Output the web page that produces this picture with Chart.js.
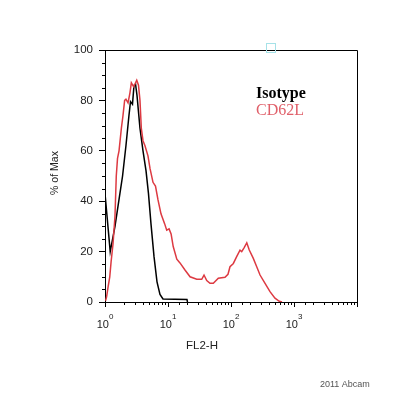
<!DOCTYPE html>
<html lang="en">
<head>
    <meta charset="UTF-8">
    <title>CD62L histogram</title>
    <script src="https://cdn.jsdelivr.net/npm/chart.js@4.4.0/dist/chart.umd.min.js"></script>
    <style>
        body {
            margin: 0;
            background: #fff;
        }
        #chart {
            display: block;
        }
    </style>
</head>
<body>
    <canvas id="chart" width="400" height="394"></canvas>

    <script>
        // FL2-H values (log axis) and % of Max
        const isotypeX = [1.00, 1.00, 1.21, 1.44, 1.70, 1.90, 2.15, 2.40, 2.54, 2.73, 2.89, 3.05, 3.22, 3.59, 4.01, 4.48, 4.90, 5.37, 6.00, 6.69, 7.46, 8.33, 20.0, 20.4];
        const isotypeY = [0, 43, 20, 30, 42, 50, 62, 74, 79.5, 78.5, 86, 86.5, 82, 69, 60, 52, 43, 31, 18, 8, 3, 1.2, 1, 0];

        const cd62lX = [1.02, 1.06, 1.12, 1.19, 1.25, 1.34, 1.44, 1.51, 1.58, 1.67, 1.82, 1.93, 2.05, 2.15, 2.32, 2.49, 2.62, 2.84, 2.99, 3.19, 3.40, 3.59, 3.77, 4.01, 4.31, 4.81, 5.18, 5.78, 6.33, 6.94, 7.74, 8.86, 9.54, 10.4, 11.2, 12.1, 13.8, 15.5, 18.6, 22.4, 28.6, 34.3, 37.3, 41.2, 46.4, 52.4, 62.9, 80.3, 89.6, 96.4, 109, 123, 139, 148, 161, 178, 195, 226, 256, 289, 347, 416, 499, 585, 645];
        const cd62lY = [0.5, 2, 6, 10, 16, 23, 34, 50, 57, 60, 69, 74, 80, 80.5, 79, 83, 87, 85.5, 86.5, 88, 86, 80, 69, 64, 62, 58, 53, 47.5, 46, 40.5, 35, 31, 28.5, 29, 27, 22, 17, 15.5, 12.7, 10, 9, 9, 10.7, 8.5, 7.4, 7.4, 9.4, 9.8, 11, 14, 15.3, 18, 20.6, 20, 21.5, 23.5, 20.6, 17.3, 14, 10.7, 7.4, 4.1, 1.5, 0.3, 0];

        const seriesNames = ['Isotype', 'CD62L'];
        const seriesColors = ['#000000', '#dd3a42'];
        const legendColors = ['#000000', '#e0606a'];

        const yMajorTicks = [0, 20, 40, 60, 80, 100];
        const yMinorStep = 5;

        const sans = '"Liberation Sans", Arial, sans-serif';
        const serif = '"Liberation Serif", "Times New Roman", serif';

        function toPoints(xs, ys) {
            return xs.map((v, i) => ({ x: v, y: ys[i] }));
        }

        function isDecade(v) {
            const l = Math.log10(v);
            return Math.abs(l - Math.round(l)) < 1e-9;
        }

        // box, minor ticks, power-of-ten labels, titles and the text legend
        const decorations = {
            id: 'decorations',
            afterDraw(chart) {
                const { ctx, chartArea: a, scales: { x, y } } = chart;
                ctx.save();

                // top and right sides of the frame
                ctx.strokeStyle = '#000';
                ctx.lineWidth = 1;
                ctx.beginPath();
                ctx.moveTo(a.left, a.top + 0.5);
                ctx.lineTo(a.right + 0.5, a.top + 0.5);
                ctx.lineTo(a.right + 0.5, a.bottom);
                ctx.stroke();

                // short minor ticks
                ctx.beginPath();
                x.ticks.forEach(t => {
                    if (isDecade(t.value)) return;
                    const px = Math.round(x.getPixelForValue(t.value)) + 0.5;
                    ctx.moveTo(px, a.bottom);
                    ctx.lineTo(px, a.bottom + 3);
                });
                for (let v = 0; v <= 100; v += yMinorStep) {
                    if (yMajorTicks.includes(v)) continue;
                    const py = Math.round(y.getPixelForValue(v)) + 0.5;
                    ctx.moveTo(a.left, py);
                    ctx.lineTo(a.left - 3, py);
                }
                ctx.stroke();

                // x labels as 10 with a raised exponent
                ctx.fillStyle = '#222';
                ctx.textBaseline = 'alphabetic';
                ctx.textAlign = 'left';
                x.ticks.forEach(t => {
                    if (!isDecade(t.value) || t.value >= x.max) return;
                    const exp = String(Math.round(Math.log10(t.value)));
                    ctx.font = '11px ' + sans;
                    const w1 = ctx.measureText('10').width;
                    ctx.font = '8px ' + sans;
                    const w2 = ctx.measureText(exp).width;
                    const cx = x.getPixelForValue(t.value);
                    const left = cx - (w1 + w2) / 2;
                    ctx.font = '11px ' + sans;
                    ctx.fillText('10', left, a.bottom + 25.5);
                    ctx.font = '8px ' + sans;
                    ctx.fillText(exp, left + w1, a.bottom + 17);
                });

                // axis titles
                ctx.fillStyle = '#222';
                ctx.textAlign = 'center';
                ctx.font = '11.5px ' + sans;
                ctx.fillText('FL2-H', a.left + 97, a.bottom + 46.5);

                ctx.save();
                ctx.translate(a.left - 50, (a.top + a.bottom) / 2 - 3);
                ctx.rotate(-Math.PI / 2);
                ctx.textBaseline = 'middle';
                ctx.font = '10.5px ' + sans;
                ctx.fillText('% of Max', 0, 0);
                ctx.restore();

                // legend text inside the plot
                ctx.textAlign = 'left';
                ctx.textBaseline = 'alphabetic';
                chart.data.datasets.slice().sort((p, q) => seriesNames.indexOf(p.label) - seriesNames.indexOf(q.label)).forEach((ds, i) => {
                    const k = seriesNames.indexOf(ds.label);
                    ctx.font = (k === 0 ? 'bold ' : '') + '16px ' + serif;
                    ctx.fillStyle = legendColors[k];
                    ctx.fillText(ds.label, a.left + 151, a.top + 47.5 + i * 17.5);
                });

                // small cyan marker on the top edge
                ctx.strokeStyle = '#a6e2e8';
                ctx.strokeRect(a.left + 161.5, a.top - 6.5, 9, 9);

                // credit line
                ctx.fillStyle = '#555';
                ctx.font = '9px ' + sans;
                ctx.fillText('2011 Abcam', 320, 387);

                ctx.restore();
            }
        };

        const chart = new Chart(document.getElementById('chart').getContext('2d'), {
            type: 'scatter',
            data: {
                datasets: [
                    {
                        label: seriesNames[1],
                        data: toPoints(cd62lX, cd62lY),
                        showLine: true,
                        borderColor: seriesColors[1],
                        borderWidth: 1.5,
                        pointRadius: 0,
                        tension: 0,
                        order: 0
                    },
                    {
                        label: seriesNames[0],
                        data: toPoints(isotypeX, isotypeY),
                        showLine: true,
                        borderColor: seriesColors[0],
                        borderWidth: 1.5,
                        pointRadius: 0,
                        tension: 0,
                        order: 1
                    }
                ]
            },
            options: {
                responsive: false,
                animation: false,
                devicePixelRatio: 1,
                layout: {
                    padding: { top: 50, right: 43, left: 0, bottom: 0 }
                },
                plugins: {
                    legend: { display: false },
                    tooltip: { enabled: false }
                },
                scales: {
                    x: {
                        type: 'logarithmic',
                        min: 1,
                        max: 10000,
                        afterFit: s => { s.height = 92; },
                        border: { display: true, color: '#000', width: 1 },
                        grid: {
                            drawOnChartArea: false,
                            tickLength: 5,
                            tickColor: c => (c.tick && isDecade(c.tick.value)) ? '#000' : 'rgba(0,0,0,0)'
                        },
                        ticks: { display: false, autoSkip: false }
                    },
                    y: {
                        min: 0,
                        max: 100,
                        afterFit: s => { s.width = 105; },
                        afterBuildTicks: s => { s.ticks = yMajorTicks.map(v => ({ value: v })); },
                        border: { display: true, color: '#000', width: 1 },
                        grid: {
                            drawOnChartArea: false,
                            tickLength: 6,
                            tickColor: '#000'
                        },
                        ticks: {
                            padding: 6,
                            color: '#222',
                            font: { family: sans, size: 11.5 }
                        }
                    }
                }
            },
            plugins: [decorations]
        });
    </script>
</body>
</html>
